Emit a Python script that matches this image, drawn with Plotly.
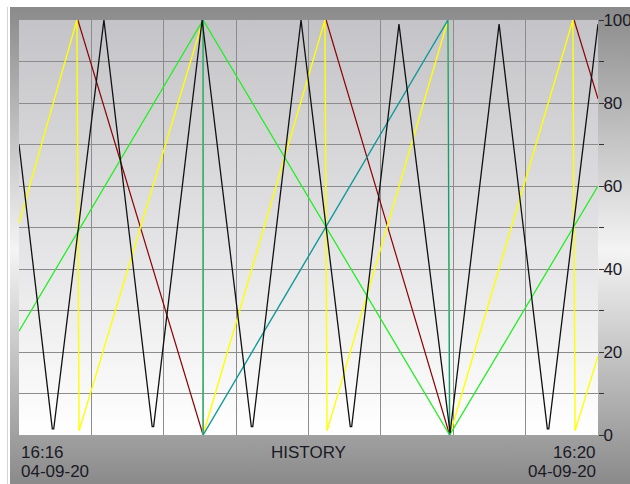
import plotly.graph_objects as go

# ---- data (time in seconds after 16:16:00, value 0-100) ----
# None = segment not visible in the chart (hidden under another series)
black_t = [0, 13.8, 14.4, 35.2, 55.2, 55.8, 75.9, 96.3, 96.9, 116.9, 137.3, 137.9, 157.5, 178.7, 199.0, 219.0, 219.6, 240]
black_v = [70, 1.5, 1.5, 100, 2, 2, 100, 2, 2, 100, 2, 2, 99, 0.5, 99, 1.5, 1.5, 99]

yellow_t = [0, 24.0, 24.9, 76.3, 76.3, 126.8, 127.7, 177.8, 178.5, 229.6, 230.5, 240]
yellow_v = [51, 100, 1, 100, 0, 100, 1, 100, 0, 100, 1, 19]

maroon_t = [24.4, 76.3, None, 127.3, 178.5, None, 230.1, 240]
maroon_v = [100, 0, None, 100, 0, None, 100, 81]

teal_t = [76.3, 76.3, 177.8, 178.5]
teal_v = [100, 0, 100, 0]

green_t = [0, 76.3, 178.5, 240]
green_v = [25, 100, 0, 60]

y_tickvals = [0, 10, 20, 30, 40, 50, 60, 70, 80, 90, 100]
y_ticktext = ["0", "", "20", "", "40", "", "60", "", "80", "", "100"]

start_time = "16:16"
end_time = "16:20"
date_label = "04-09-20"
title_text = "HISTORY"

W, H = 630, 484
PX0, PX1, PY0, PY1 = 19, 598, 20, 435  # plot area in pixels


def px(x):
    return x / W


def py(y):
    return 1 - y / H


fig = go.Figure()

# background frame (gradient)
fig.add_trace(go.Scatter(
    x=[10, W, W, 10, 10], y=[0, 0, H - 7, H - 7, 0],
    fill="toself", mode="none", hoverinfo="skip", showlegend=False,
    fillgradient=dict(type="vertical", colorscale=[[0, "#8a8a8a"], [0.49, "#f4f4f4"], [1, "#8a8a8a"]]),
    xaxis="x", yaxis="y"))
# plot-area background (gradient)
fig.add_trace(go.Scatter(
    x=[PX0, PX1, PX1, PX0, PX0], y=[H - PY1, H - PY1, H - PY0, H - PY0, H - PY1],
    fill="toself", mode="none", hoverinfo="skip", showlegend=False,
    fillgradient=dict(type="vertical", colorscale=[[0, "#ffffff"], [1, "#c4c4c8"]]),
    xaxis="x", yaxis="y"))

series = [
    (maroon_t, maroon_v, "#8b0000", 1.2),
    (yellow_t, yellow_v, "#ffff00", 1.4),
    (green_t, green_v, "#22ee22", 1.3),
    (teal_t, teal_v, "#119999", 1.4),
    (black_t, black_v, "#111111", 1.3),
]
for t, v, c, w in series:
    fig.add_trace(go.Scatter(x=t, y=v, mode="lines", line=dict(color=c, width=w),
                             connectgaps=False,
                             showlegend=False, hoverinfo="skip", xaxis="x2", yaxis="y2"))

font_main = "Liberation Sans, Arial, sans-serif"
txt_color = "#1a1a26"

fig.update_layout(
    template="none",
    width=W, height=H,
    margin=dict(l=0, r=0, t=0, b=0, autoexpand=False),
    paper_bgcolor="#ffffff", plot_bgcolor="rgba(0,0,0,0)",
    xaxis=dict(domain=[0, 1], range=[0, W], visible=False, fixedrange=True, automargin=False),
    yaxis=dict(domain=[0, 1], range=[0, H], visible=False, fixedrange=True, automargin=False),
    xaxis2=dict(domain=[px(PX0), px(PX1)], range=[0, 240], anchor="y2", automargin=False,
                showticklabels=False, ticks="", showgrid=True, dtick=30, tick0=0,
                gridcolor="#8c8c8c", gridwidth=1, zeroline=False, showline=False),
    yaxis2=dict(domain=[py(PY1), py(PY0)], range=[0, 100], anchor="x2", side="right",
                automargin=False,
                tickvals=y_tickvals, ticktext=y_ticktext, ticks="outside", ticklen=5,
                tickwidth=1, tickcolor="#333333", showgrid=True, gridcolor="#8c8c8c",
                gridwidth=1, zeroline=False, showline=False, ticklabelstandoff=-4,
                tickfont=dict(family=font_main, size=17, color=txt_color)),
    shapes=[dict(type="line", xref="paper", yref="paper", x0=px(7.5), x1=px(7.5),
                 y0=0, y1=py(7), line=dict(color="#d4d4d4", width=1))],
)

ann = [
    (start_time, 19, 452, "left", "left"),
    (date_label, 19, 471, "left", "left"),
    (title_text, 308.5, 452, "center", "center"),
    (end_time, 598, 452, "right", "right"),
    (date_label, 598, 471, "right", "right"),
]
for text, x, y, xa, al in ann:
    fig.add_annotation(text=text, x=px(x), y=py(y), xref="paper", yref="paper",
                       xanchor=xa, yanchor="middle", showarrow=False, align=al,
                       font=dict(family=font_main, size=17, color=txt_color))

fig.write_html("out.html", config={"displayModeBar": False},
               post_script="document.body.style.margin='0';document.body.style.overflow='hidden';")
